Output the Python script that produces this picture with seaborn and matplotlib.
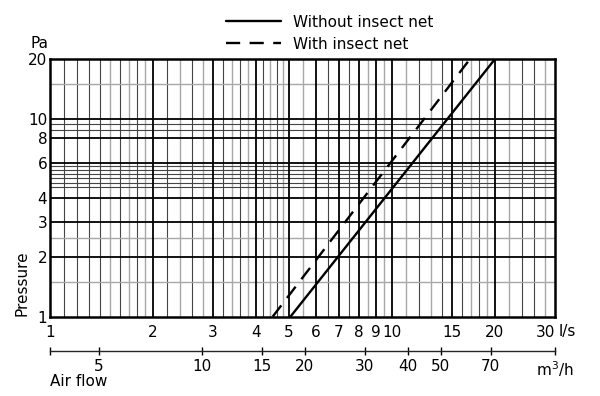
import numpy as np
import pandas as pd
import matplotlib
matplotlib.use("Agg")
import matplotlib.pyplot as plt
from matplotlib.ticker import NullLocator, FixedLocator, FixedFormatter
import seaborn as sns

sns.set_theme(style="white")
plt.rcParams['font.family'] = ['DejaVu Sans']
plt.rcParams['text.color'] = 'black'

# pressure drop curves, end points (l/s -> Pa)
flow_without = [5.05, 20.0]
pressure_without = [1.0, 20.0]
flow_with = [4.48, 16.9]
pressure_with = [1.0, 20.0]
series_names = ["Without insect net", "With insect net"]

# grid of the printed chart paper
x_major = [2, 3, 4, 5, 6, 7, 8, 9, 10, 15, 20]
x_minor_dark = [1.1, 1.2, 1.3, 1.4, 1.6, 1.8, 2.2, 2.6, 3.2, 3.6, 4.2, 4.6,
                6.5, 7.5, 12, 14, 16, 18, 24, 26]
x_minor_grey = [1.5, 1.7, 1.9, 2.4, 2.8, 3.4, 3.8, 4.4, 4.8, 5.5, 8.5, 9.5,
                11, 13, 17, 19, 22, 28]
y_major = [2, 3, 4, 6, 8, 10]
y_minor_dark = [4.5, 4.75, 5, 5.25, 5.5, 5.75, 8.8, 9.4]
y_minor_grey = [1.5, 2.5, 15]

x_ticks = [1, 2, 3, 4, 5, 6, 7, 8, 9, 10, 15, 20, 30]
y_ticks = [1, 2, 3, 4, 6, 8, 10, 20]
m3h_ticks = [5, 10, 15, 20, 30, 40, 50, 70]

df = pd.DataFrame({
    "flow": flow_without + flow_with,
    "pressure": pressure_without + pressure_with,
    "series": [series_names[0]] * len(flow_without) + [series_names[1]] * len(flow_with),
})

fig = plt.figure(figsize=(6, 3.96), dpi=100)
ax = fig.add_axes([0.0833, 0.2003, 0.8417, 0.650])
ax.set_xscale('log')
ax.set_yscale('log')
ax.set_xlim(1, 30)
ax.set_ylim(1, 20)

for v in x_minor_grey:
    ax.axvline(v, color='#a8a8a8', lw=1.0, zorder=1)
for v in x_minor_dark:
    ax.axvline(v, color='#444444', lw=0.8, zorder=1)
for v in x_major:
    ax.axvline(v, color='black', lw=1.3, zorder=1.5)
for v in y_minor_grey:
    ax.axhline(v, color='#a8a8a8', lw=1.0, zorder=1)
for v in y_minor_dark:
    ax.axhline(v, color='#444444', lw=0.8, zorder=1)
for v in y_major:
    ax.axhline(v, color='black', lw=1.3, zorder=1.5)

sns.lineplot(data=df, x="flow", y="pressure", style="series", style_order=series_names,
             dashes={series_names[0]: "", series_names[1]: (6, 4)},
             color='black', lw=1.7, ax=ax, zorder=3, sort=False, estimator=None)

for s in ax.spines.values():
    s.set_linewidth(1.8)
    s.set_color('black')
    s.set_zorder(4)

ax.xaxis.set_major_locator(FixedLocator(x_ticks))
ax.xaxis.set_major_formatter(FixedFormatter([str(t) for t in x_ticks]))
ax.xaxis.set_minor_locator(NullLocator())
ax.yaxis.set_major_locator(FixedLocator(y_ticks))
ax.yaxis.set_major_formatter(FixedFormatter([str(t) for t in y_ticks]))
ax.yaxis.set_minor_locator(NullLocator())
ax.tick_params(axis='both', length=0, labelsize=11, colors='black')
ax.tick_params(axis='x', pad=6)
ax.tick_params(axis='y', pad=2)
ax.set_xlabel('')
ax.set_ylabel('')
fig.canvas.draw()
ax.get_xticklabels()[-1].set_horizontalalignment('right')

# second flow scale in m3/h
sec = ax.secondary_xaxis(-0.132, functions=(lambda q: q * 3.6, lambda m: m / 3.6))
sec.xaxis.set_major_locator(FixedLocator([3.6] + m3h_ticks + [108]))
sec.xaxis.set_major_formatter(FixedFormatter([''] + [str(t) for t in m3h_ticks] + ['m$^3$/h']))
sec.xaxis.set_minor_locator(NullLocator())
sec.spines['bottom'].set_linewidth(1.0)
sec.tick_params(axis='x', direction='inout', length=6, width=1.0, labelsize=11, pad=3, colors='black')

ax.text(1.008, -0.058, 'l/s', transform=ax.transAxes, ha='left', va='center', fontsize=11)
fig.text(0.08, 1 - 43 / 396, 'Pa', ha='right', va='center', fontsize=11)
fig.text(22 / 600, 1 - 316 / 396, 'Pressure', rotation=90, ha='center', va='bottom', fontsize=11)
fig.text(0.083, 1 - 381 / 396, 'Air flow', ha='left', va='center', fontsize=11)

sns.move_legend(ax, 'upper center', bbox_to_anchor=(0.55, 0.99), bbox_transform=fig.transFigure,
                frameon=False, title=None, handlelength=3.6, fontsize=11,
                labelspacing=0.45, handletextpad=0.8, borderaxespad=0.3)
for t in ax.get_legend().get_texts():
    t.set_color('black')

fig.savefig('out.png', dpi=100)
